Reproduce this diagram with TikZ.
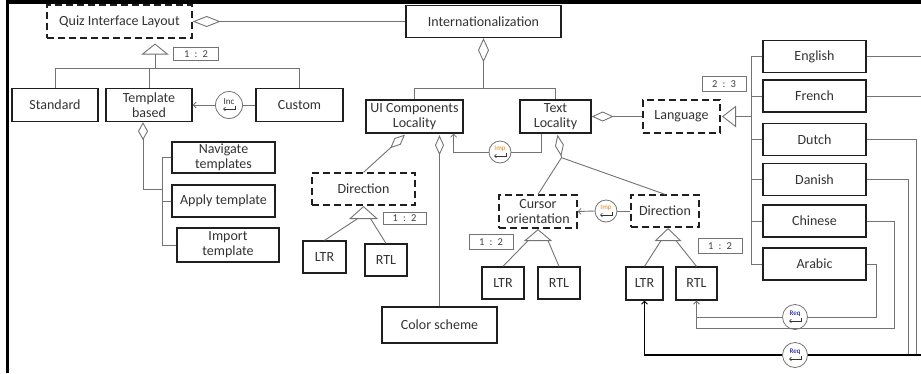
\documentclass[tikz,border=0pt]{standalone}
\usepackage{fontspec}
\setmainfont{Carlito}
\usetikzlibrary{arrows.meta,calc,shapes.geometric}
\newcommand{\relmark}[5]{%
  \node[circ, minimum size=#5] (#1) at (#2) {};
  \node[font=\fontsize{7}{7}\selectfont, text=#4, inner sep=0pt] at ($(#1)+(0,-3.5)$) {#3};
  \draw[line width=0.6pt, draw=black!80, -{Straight Barb[length=2pt,width=3.5pt]}] ($(#1)+(6,0.5)$) -- ($(#1)+(6,4)$) -- ($(#1)+(-6,4)$);
}
\begin{document}
\begin{tikzpicture}[x=1pt,y=-1pt,
  box/.style={draw=black!88, line width=1.3pt, fill=white, align=center, inner sep=0pt,
              font=\fontsize{14}{15}\selectfont, text=black!80},
  dbox/.style={box, dash pattern=on 7pt off 4pt},
  sz/.style 2 args={minimum width=#1pt, minimum height=#2pt},
  conn/.style={draw=black!55, line width=0.9pt},
  card/.style={draw=black!55, line width=0.8pt, inner sep=0pt, fill=white,
               font=\fontsize{10.5}{11}\selectfont, text=black!75},
  circ/.style={circle, draw=black!55, line width=0.8pt, fill=white, inner sep=0pt},
  arr/.style={-{Straight Barb[length=3pt,width=6pt,line width=0.8pt]}},
  bigl/.style={draw=black, line width=1.8pt}]
\useasboundingbox (0,0) rectangle (921,373);
\fill[white] (0,0) rectangle (921,373);
% frame
\draw[black, line width=3.5pt] (7.5,373) -- (7.5,2) -- (921,2);

% nodes
\node[dbox, sz={145}{33}] (qil) at (119.5,21.5) {Quiz Interface Layout};
\node[box, sz={155}{32}] (intl) at (483.5,21.5) {Internationalization};
\node[box, sz={86}{33}] (std) at (55,105) {Standard};
\node[box, sz={86}{33}] (tb) at (149,105) {Template\\based};
\node[box, sz={87}{33}] (cust) at (299.5,105) {Custom};
\node[box, sz={103}{31}] (nav) at (223.5,157.5) {Navigate\\templates};
\node[box, sz={103}{32}] (app) at (223.5,201) {Apply template};
\node[box, sz={102}{34}] (imt) at (228,245) {Import\\template};
\node[box, sz={97}{33}] (uic) at (414.5,116.5) {UI Components\\Locality};
\node[box, sz={71}{33}] (txt) at (555.5,116.5) {Text\\Locality};
\node[dbox, sz={77}{33}] (lang) at (681.5,116.5) {Language};
\node[box, sz={103}{32}] (en) at (814.5,56.5) {English};
\node[box, sz={103}{32}] (fr) at (814.5,96) {French};
\node[box, sz={103}{32}] (du) at (814.5,139.5) {Dutch};
\node[box, sz={103}{32}] (da) at (814.5,179.5) {Danish};
\node[box, sz={103}{32}] (ch) at (814.5,221) {Chinese};
\node[box, sz={103}{32}] (ar) at (814.5,264) {Arabic};
\node[dbox, sz={103}{32}] (dir1) at (363.5,189) {Direction};
\node[box, sz={43}{32}] (ltr1) at (324.5,257) {LTR};
\node[box, sz={42}{32}] (rtl1) at (386,260) {RTL};
\node[box, sz={115}{36}] (cs) at (439.5,325) {Color scheme};
\node[dbox, sz={78}{33}] (curs) at (538,211.5) {Cursor\\orientation};
\node[box, sz={42}{32}] (ltr3) at (503,283) {LTR};
\node[box, sz={42}{32}] (rtl3) at (559,283) {RTL};
\node[dbox, sz={68}{32}] (dir2) at (665,211) {Direction};
\node[box, sz={37}{33}] (ltr2) at (644.5,283.5) {LTR};
\node[box, sz={41}{33}] (rtl2) at (696.5,283.5) {RTL};

% cardinality labels
\node[card, sz={45}{13}] (c1) at (196,54) {1\enspace:\enspace2};
\node[card, sz={43}{12}] (c2) at (404.5,218) {1\enspace:\enspace2};
\node[card, sz={44}{15}] (c3) at (491,242) {1\enspace:\enspace2};
\node[card, sz={44}{15}] (c4) at (720,246) {1\enspace:\enspace2};
\node[card, sz={44}{15}] (c5) at (724,84) {2\enspace:\enspace3};

% relation circles
\relmark{inc}{229,105}{\fontsize{9}{9}\selectfont Inc}{black!80}{27pt}
\relmark{imp1}{500,152}{Imp}{orange!70!brown}{22pt}
\relmark{imp2}{606,211}{Imp}{orange!70!brown}{22pt}
\relmark{req1}{795,317}{Req}{blue!60!black}{25pt}
\relmark{req2}{795,355}{Req}{blue!60!black}{25pt}

% Quiz Interface Layout -- Internationalization
\draw[conn, {Diamond[open,length=28pt,width=11pt]}-] (qil.east) -- (intl.west);
% Internationalization children
\draw[conn, {Diamond[open,length=24pt,width=11pt]}-] (intl.south) -- ++(0,50.5) coordinate (ib);
\draw[conn] (uic.north) |- (ib) -| (txt.north);
% Text -- Language
\draw[conn, {Diamond[open,length=22pt,width=10pt]}-] (txt.east) -- (lang.west);
% Language generalization
\coordinate (lt) at ($(lang.east)+(2,0)$);
\draw[conn, fill=white] (lt) -- ++(13,-10) -- ++(0,20) -- cycle;
\draw[conn] ($(lt)+(13,0)$) -- ++(16,0) coordinate (lb);
\draw[conn] (en.west) -| (lb) |- (ar.west);
\foreach \n in {fr,du,da,ch} \draw[conn] (\n.west) -- (\n.west -| lb);

% right side links
\coordinate (rb) at (921,355);
\draw[conn] (en.east) -- (en.east -| rb);
\draw[conn] (fr.east) -- (fr.east -| rb);
\draw[conn] (du.east) -| ($(rb)+(-5,0)$);
\draw[conn] (da.east) -| ($(rb)+(-13,0)$);
\draw[bigl] (rb) -- (req2.east);
\draw[bigl, arr] (req2.west) -| (ltr2.south);
\coordinate (chc) at (894,328);
\draw[conn, arr] (ch.east) -| (chc) -| (rtl2.south);
\coordinate (arc) at (876,317);
\draw[conn] (ar.east) -| (arc) -- (req1.east);
\draw[conn] (req1.west) -- (req1.west -| rtl2.south);

% Quiz Interface Layout tree
\coordinate (qt) at ($(qil.south)+(35.5,5.5)$);
\draw[conn, fill=white] (qt) -- ++(-12.5,10) -- ++(25,0) -- cycle;
\draw[conn] ($(qt)+(0,10)$) -- ++(0,14.5) coordinate (qb);
\draw[conn] (std.north) |- (qb) -| (cust.north);
\draw[conn] (tb.north) -- (tb.north |- qb);
\draw[conn] (cust.west) -- (inc.east);
\draw[conn, arr] (inc.west) -- (tb.east);

% Template based tree
\draw[conn, {Diamond[open,length=18pt,width=10pt]}-] ($(tb.south)+(-6,0)$) |- ++(19,67) coordinate (tbus);
\draw[conn] (nav.west) -| (tbus);
\draw[conn] (imt.west) -| (tbus);
\draw[conn] (app.west) -- (app.west -| tbus);

% UI Components
\draw[conn, {Diamond[open,length=20pt,width=9pt]}-] ($(uic.south)+(-9.5,1)$) -- (dir1.north);
\draw[conn, {Diamond[open,length=20pt,width=9pt]}-] ($(cs.north |- uic.south)+(0,1.5)$) -- (cs.north);
\draw[conn] ($(txt.south west)+(22,0)$) |- (imp1.east);
\draw[conn, arr] (imp1.west) -| ($(uic.south east)+(-10,0)$);

% Direction 1 tree
\coordinate (d1t) at ($(dir1.south)+(0,1)$);
\draw[conn, fill=white] (d1t) -- ++(-13.5,12) -- ++(27,0) -- cycle;
\draw[conn] ($(d1t)+(-6,12)$) -- (ltr1.north);
\draw[conn] ($(d1t)+(7,12)$) -- (rtl1.north);

% Text Locality
\draw[conn, {Diamond[open,length=22pt,width=9pt]}-] ($(txt.south)+(2,1)$) -- ++(4,23) coordinate (td);
\draw[conn] (td) -- (curs.north);
\draw[conn] (td) -- (dir2.north);
\draw[conn] (dir2.west) -- (imp2.east);
\draw[conn, arr] (imp2.west) -- (curs.east);

% Cursor tree
\coordinate (ct) at ($(curs.south)+(0,1)$);
\draw[conn, fill=white] (ct) -- ++(-13,11) -- ++(26,0) -- cycle;
\draw[conn] ($(ct)+(-10,11)$) -- (ltr3.north);
\draw[conn] ($(ct)+(10,11)$) -- (rtl3.north);

% Direction 2 tree
\coordinate (d2t) at ($(dir2.south)+(3,1)$);
\draw[conn, fill=white] (d2t) -- ++(-12.5,12) -- ++(25,0) -- cycle;
\draw[conn] ($(d2t)+(-7,12)$) -- (ltr2.north);
\draw[conn] ($(d2t)+(8,12)$) -- (rtl2.north);
\end{tikzpicture}
\end{document}
